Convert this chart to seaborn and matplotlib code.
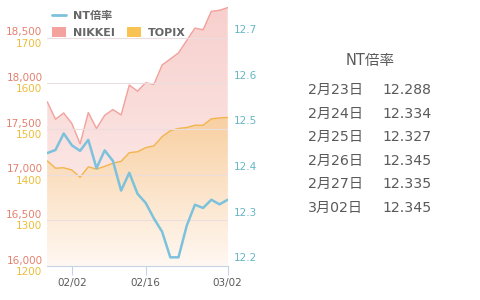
import numpy as np
import pandas as pd
import matplotlib
matplotlib.use("Agg")
import matplotlib.pyplot as plt
import seaborn as sns
from matplotlib.lines import Line2D
from matplotlib.patches import Patch
from matplotlib.colors import LinearSegmentedColormap
from matplotlib.transforms import ScaledTranslation

# ---------------- data ----------------
dates = ['01/28', '01/29', '01/30', '02/02', '02/03', '02/04', '02/05', '02/06',
         '02/09', '02/10', '02/12', '02/13', '02/16', '02/17', '02/18', '02/19',
         '02/20', '02/23', '02/24', '02/25', '02/26', '02/27', '03/02']
nikkei = [17796, 17606, 17674, 17558, 17336, 17679, 17505, 17649, 17712, 17653,
          17980, 17913, 18005, 17987, 18199, 18265, 18332, 18467, 18603, 18585,
          18786, 18798, 18827]
topix = [1430, 1414, 1415, 1410, 1394, 1417, 1412, 1418, 1425, 1429,
         1448, 1450, 1459, 1463, 1483, 1496, 1501, 1503, 1508, 1508,
         1522, 1524, 1525]
nt = [12.447, 12.454, 12.490, 12.464, 12.452, 12.476, 12.414, 12.453, 12.430, 12.365,
      12.404, 12.358, 12.338, 12.304, 12.275, 12.219, 12.219, 12.288, 12.334, 12.327,
      12.345, 12.335, 12.345]
xtick_dates = ['02/02', '02/16', '03/02']
nikkei_ticks = [16000, 16500, 17000, 17500, 18000, 18500]
topix_ticks = [1200, 1300, 1400, 1500, 1600, 1700]
nt_ticks = [12.2, 12.3, 12.4, 12.5, 12.6, 12.7]
panel_title = 'NT倍率'
panel_dates = ['2月23日', '2月24日', '2月25日', '2月26日', '2月27日', '3月02日']
panel_values = nt[-6:]
legend_labels = ['NT倍率', 'NIKKEI', 'TOPIX']

df = pd.DataFrame({'idx': np.arange(len(dates)), 'date': dates,
                   'nikkei': nikkei, 'topix': topix, 'nt': nt})

# ---------------- style ----------------
sns.set_theme(style='white')
plt.rcParams['font.family'] = ['DejaVu Sans', 'Noto Sans CJK JP']

C_NIK_LINE = '#f2a19c'
C_TOP_LINE = '#f2b54e'
C_NT_LINE = '#7cc2dc'
C_NIK_LAB = '#e4806f'
C_TOP_LAB = '#edbd3c'
C_NT_LAB = '#66b6c6'
C_AXIS = '#c6d3e4'
C_GRID = '#ecdede'
C_TEXT = '#5a5a5a'

fig = plt.figure(figsize=(4.8, 3.0), dpi=100)
fig.patch.set_facecolor('white')

ax = fig.add_axes([47.3 / 480, 34 / 300, 180.4 / 480, 264 / 300])
ax2 = ax.twinx()
ax3 = ax.twinx()

px_per_step = 45.7
top_px = 264
nik_lim = (16000, 16000 + top_px / px_per_step * 500)
top_lim = (1200, 1200 + top_px / px_per_step * 100)
nt_lim = (12.2, 12.2 + top_px / px_per_step * 0.1)


def grad_fill(a, x, y, base, c_top, c_bot, f0, f1):
    poly = a.fill_between(x, y, base, color='none', linewidth=0)
    cmap = LinearSegmentedColormap.from_list('g', [c_bot, c_top])
    grad = np.linspace(0, 1, 256).reshape(-1, 1)
    im = a.imshow(grad, cmap=cmap, aspect='auto', origin='lower',
                  extent=[0, 1, f0, f1], transform=a.transAxes, zorder=1,
                  interpolation='bilinear')
    im.set_clip_path(poly.get_paths()[0], transform=a.transData)


grad_fill(ax, df['idx'], df['nikkei'], nik_lim[0], '#f7cfcc', '#fdf2f1', 0, 1)
grad_fill(ax2, df['idx'], df['topix'], top_lim[0], '#f8cd9c', '#fff8f2', 0, 0.6)

sns.lineplot(data=df, x='idx', y='nikkei', ax=ax, color=C_NIK_LINE, linewidth=1.0, zorder=3)
sns.lineplot(data=df, x='idx', y='topix', ax=ax2, color=C_TOP_LINE, linewidth=1.0, zorder=3)
sns.lineplot(data=df, x='idx', y='nt', ax=ax3, color=C_NT_LINE, linewidth=1.8, zorder=3)

for a, lim in ((ax, nik_lim), (ax2, top_lim), (ax3, nt_lim)):
    a.set_xlim(0, len(dates) - 1)
    a.set_ylim(*lim)
    a.set_xlabel('')
    a.set_ylabel('')
    for s in a.spines.values():
        s.set_visible(False)

ax.spines['bottom'].set_visible(True)
ax.spines['bottom'].set_color(C_AXIS)
ax.spines['bottom'].set_linewidth(0.8)

# x ticks
xt = [dates.index(d) for d in xtick_dates]
ax.set_xticks(xt)
ax.set_xticklabels(xtick_dates)
ax.tick_params(axis='x', length=6.5, width=0.8, color=C_AXIS, labelsize=7.5,
               labelcolor=C_TEXT, pad=2, bottom=True)

# left y: NIKKEI
ax.set_yticks(nikkei_ticks)
ax.set_yticklabels([f'{v:,}' for v in nikkei_ticks])
ax.tick_params(axis='y', length=0, labelsize=7.5, labelcolor=C_NIK_LAB, pad=3.5, left=True)
# left y: TOPIX
ax2.yaxis.set_ticks_position('left')
ax2.set_yticks(topix_ticks)
ax2.set_yticklabels([str(v) for v in topix_ticks])
ax2.tick_params(axis='y', length=0, labelsize=7.5, labelcolor=C_TOP_LAB, pad=3.5,
                left=True, right=False, labelleft=True, labelright=False)
# right y: NT
ax3.set_yticks(nt_ticks)
ax3.set_yticklabels([f'{v:.1f}' for v in nt_ticks])
ax3.tick_params(axis='y', length=0, labelsize=7.5, labelcolor=C_NT_LAB, pad=4.5,
                right=True, labelright=True)
ax3.grid(axis='y', color=C_GRID, linewidth=0.8)
ax3.set_axisbelow(True)
ax.grid(False)
ax2.grid(False)

for lbl in ax.get_yticklabels():
    lbl.set_transform(lbl.get_transform() + ScaledTranslation(0, 4.5 / 72, fig.dpi_scale_trans))
for lbl in ax2.get_yticklabels():
    lbl.set_transform(lbl.get_transform() + ScaledTranslation(0, -3.6 / 72, fig.dpi_scale_trans))
for lbl in ax3.get_yticklabels():
    lbl.set_transform(lbl.get_transform() + ScaledTranslation(0, 6.2 / 72, fig.dpi_scale_trans))

# legend
handles = [Line2D([], [], color=C_NT_LINE, linewidth=2.0),
           Patch(facecolor='#f3a29e', edgecolor='none'),
           Line2D([], [], color='none'),
           Patch(facecolor='#f9c354', edgecolor='none')]
labels = [legend_labels[0], legend_labels[1], '', legend_labels[2]]
leg = ax3.legend(handles, labels, ncol=2, loc='upper left', bbox_to_anchor=(0.012, 0.975),
                 frameon=False, borderpad=0, borderaxespad=0.2, handlelength=1.26,
                 handleheight=0.95, handletextpad=0.63, columnspacing=1.15,
                 labelspacing=0.5, prop={'size': 8, 'weight': 'bold'})
for t in leg.get_texts():
    t.set_color('#666666')

# right panel
fig.text(370 / 480, 1 - 60 / 300, panel_title, ha='center', va='center', fontsize=10.5, color=C_TEXT)
for i, (d, v) in enumerate(zip(panel_dates, panel_values)):
    y = 1 - (90 + i * 23.6) / 300
    fig.text(308 / 480, y, d, ha='left', va='center', fontsize=10.2, color=C_TEXT)
    fig.text(382 / 480, y, f'{v:.3f}', ha='left', va='center', fontsize=10.2, color=C_TEXT)

fig.savefig('out.png', dpi=100, facecolor='white')
